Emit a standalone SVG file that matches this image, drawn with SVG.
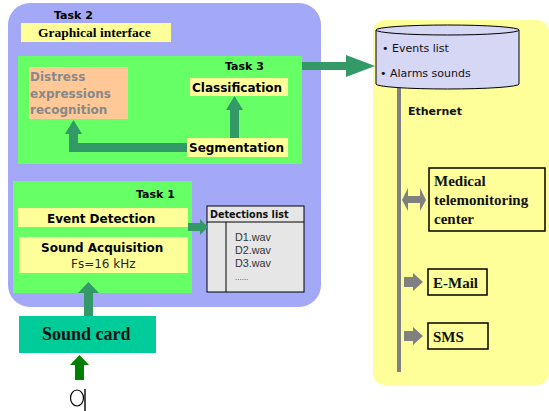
<svg xmlns="http://www.w3.org/2000/svg" width="549" height="411" viewBox="0 0 549 411">
  <style>
    .sans { font-family: "DejaVu Sans", Verdana, sans-serif; }
    .serif { font-family: "Liberation Serif", "Times New Roman", serif; font-weight: bold; }
    .b { font-weight: bold; }
    .label { fill: #FFFF99; }
    .task { fill: #66FF66; }
    .flow { fill: #339966; }
    .grey { fill: #808080; }
    .box { fill: #FFFF99; stroke: #000; stroke-width: 1.5; }
  </style>

  <!-- Processing host -->
  <g id="host">
    <rect x="8" y="3" width="313" height="304" rx="22" fill="#A3A8F7"/>
    <text class="sans b" x="54" y="19" font-size="11">Task 2</text>
    <rect class="label" x="21" y="23" width="150" height="19"/>
    <text class="serif" x="38" y="37" font-size="13.5">Graphical interface</text>
  </g>

  <!-- Task 3 -->
  <g id="task3">
    <rect class="task" x="18" y="56" width="284" height="108"/>
    <text class="sans b" x="225" y="70" font-size="11">Task 3</text>
  </g>
  <g id="distress">
    <rect x="29" y="67" width="99" height="52" fill="#FFC896"/>
    <text class="sans b" font-size="12" fill="#888888"><tspan x="30" y="81">Distress</tspan><tspan x="30" y="98">expressions</tspan><tspan x="30" y="114">recognition</tspan></text>
  </g>
  <g id="classification">
    <rect class="label" x="190" y="78" width="98" height="18"/>
    <text class="sans b" x="192" y="92" font-size="12">Classification</text>
  </g>
  <g id="segmentation">
    <rect class="label" x="187" y="138" width="101" height="19"/>
    <text class="sans b" x="189" y="152" font-size="12">Segmentation</text>
  </g>

  <!-- Task 1 -->
  <g id="task1">
    <rect class="task" x="13" y="181" width="179" height="112"/>
    <text class="sans b" x="136" y="198" font-size="11">Task 1</text>
  </g>
  <g id="event-detection">
    <rect class="label" x="18" y="208" width="170" height="19"/>
    <text class="sans b" x="47" y="223" font-size="12">Event Detection</text>
  </g>
  <g id="sound-acquisition">
    <rect class="label" x="19" y="237" width="169" height="36"/>
    <text class="sans b" x="41" y="252" font-size="12">Sound Acquisition</text>
    <text class="sans" x="71" y="268" font-size="12" fill="#222">Fs=16 kHz</text>
  </g>

  <!-- Detections list -->
  <g id="detections">
    <rect x="207" y="206" width="97" height="86" fill="#E6E6E6" stroke="#000" stroke-width="1"/>
    <line x1="207" y1="222" x2="304" y2="222" stroke="#000" stroke-width="1.2"/>
    <line x1="226" y1="222" x2="226" y2="292" stroke="#000" stroke-width="1"/>
    <text class="sans b" x="210" y="218" font-size="9.6" fill="#111">Detections list</text>
    <text font-family="Liberation Sans, Arial, sans-serif" font-size="10.8" fill="#333">
      <tspan x="235" y="241">D1.wav</tspan><tspan x="235" y="254">D2.wav</tspan><tspan x="235" y="267">D3.wav</tspan><tspan x="235" y="280" font-size="8">......</tspan>
    </text>
  </g>

  <!-- Sound card and microphone -->
  <g id="sound-card">
    <rect x="19" y="316" width="137" height="37" fill="#00CC99"/>
    <text class="serif" x="42" y="340" font-size="18" fill="#111">Sound card</text>
  </g>
  <g id="microphone">
    <ellipse cx="77" cy="398" rx="6.5" ry="8" fill="none" stroke="#000" stroke-width="1.2"/>
    <line x1="85" y1="389" x2="85" y2="411" stroke="#000" stroke-width="1.4"/>
  </g>

  <!-- Remote side -->
  <g id="network">
    <rect x="373" y="20" width="176" height="365" rx="12" fill="#FFFF99"/>
    <rect class="grey" x="397" y="88" width="4" height="284"/>
    <text class="sans b" x="408" y="115" font-size="11" fill="#111">Ethernet</text>
  </g>
  <g id="storage">
    <path d="M376 30 V84 A71.5 5 0 0 0 519 84 V30" fill="#D6D6F5" stroke="#000" stroke-width="1"/>
    <ellipse cx="447.5" cy="30" rx="71.5" ry="5" fill="#D6D6F5" stroke="#000" stroke-width="1"/>
    <text class="sans" font-size="11" fill="#111"><tspan x="382" y="52">•  Events list</tspan><tspan x="380" y="77">• Alarms sounds</tspan></text>
  </g>
  <g id="medical">
    <rect class="box" x="429" y="168" width="116" height="63"/>
    <text class="serif" font-size="15" fill="#111"><tspan x="434" y="186">Medical</tspan><tspan x="434" y="205">telemonitoring</tspan><tspan x="434" y="224">center</tspan></text>
  </g>
  <g id="email">
    <rect class="box" x="428" y="269" width="59" height="26"/>
    <text class="serif" x="433" y="288" font-size="15" fill="#111">E-Mail</text>
  </g>
  <g id="sms">
    <rect class="box" x="428" y="323" width="60" height="26"/>
    <text class="serif" x="433" y="342" font-size="15" fill="#111">SMS</text>
  </g>

  <!-- Connectors -->
  <g id="connectors">
    <!-- Segmentation to Classification -->
    <polygon class="flow" points="230,138 230,110 226,110 234.5,96 243,110 239,110 239,138"/>
    <!-- Segmentation to Distress expressions recognition -->
    <polygon class="flow" points="187,143 78,143 78,134 82,134 73.5,120 65,134 69,134 69,152 187,152"/>
    <!-- Task 3 to storage -->
    <polygon class="flow" points="302,62 346,62 346,55 375,66 346,77 346,70 302,70"/>
    <!-- Event Detection to Detections list -->
    <polygon class="flow" points="188,223 200,223 200,219 208,227 200,235 200,231 188,231"/>
    <!-- Sound card to Sound Acquisition -->
    <polygon class="flow" points="84,316 84,293 78,293 88.5,282 99,293 93,293 93,316"/>
    <!-- Microphone to Sound card -->
    <polygon fill="#008000" points="75,380 75,365 70,365 79.5,355 89,365 84,365 84,380"/>
    <!-- Ethernet links -->
    <polygon class="grey" points="402,200 408,188 408,196 420,196 420,188 426,200 420,211 420,203 408,203 408,211"/>
    <polygon class="grey" points="404,277 413,277 413,273 423,282 413,291 413,287 404,287"/>
    <polygon class="grey" points="404,331 413,331 413,327 423,336 413,345 413,341 404,341"/>
  </g>
</svg>
